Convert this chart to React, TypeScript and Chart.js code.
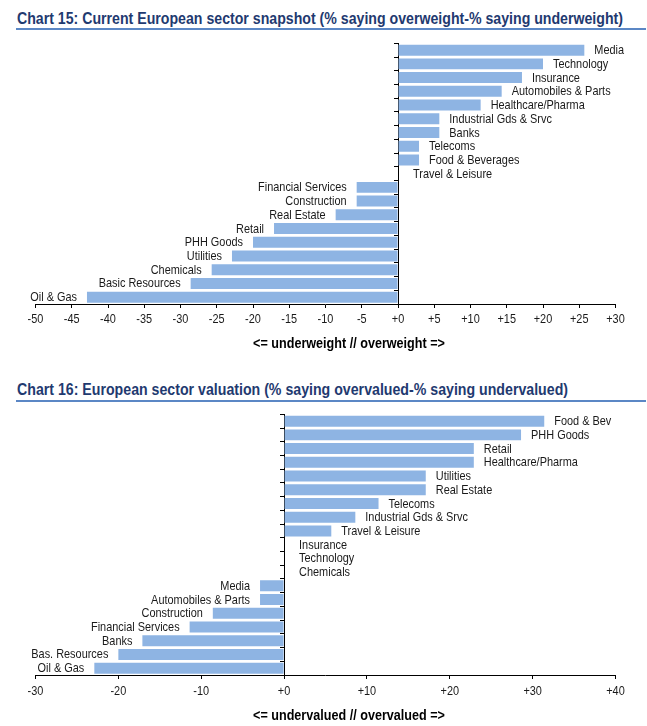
import React, { useEffect, useLayoutEffect, useRef } from 'react';
import { Chart, registerables } from 'chart.js';

Chart.register(...registerables);

const snapshotTitle = 'Chart 15: Current European sector snapshot (% saying overweight-% saying underweight)';
const snapshotAxisTitle = '<= underweight // overweight =>';
const snapshotCategories = [
  'Media', 'Technology', 'Insurance', 'Automobiles & Parts', 'Healthcare/Pharma',
  'Industrial Gds & Srvc', 'Banks', 'Telecoms', 'Food & Beverages', 'Travel & Leisure',
  'Financial Services', 'Construction', 'Real Estate', 'Retail', 'PHH Goods',
  'Utilities', 'Chemicals', 'Basic Resources', 'Oil & Gas',
];
const snapshotValues = [
  25.7, 20.0, 17.1, 14.3, 11.4, 5.7, 5.7, 2.9, 2.9, 0,
  -5.7, -5.7, -8.6, -17.1, -20.0, -22.9, -25.7, -28.6, -42.9,
];
const snapshotTickRange = [-50, 30, 5];

const valuationTitle = 'Chart 16: European sector valuation (% saying overvalued-% saying undervalued)';
const valuationAxisTitle = '<= undervalued // overvalued =>';
const valuationCategories = [
  'Food & Bev', 'PHH Goods', 'Retail', 'Healthcare/Pharma', 'Utilities',
  'Real Estate', 'Telecoms', 'Industrial Gds & Srvc', 'Travel & Leisure', 'Insurance',
  'Technology', 'Chemicals', 'Media', 'Automobiles & Parts', 'Construction',
  'Financial Services', 'Banks', 'Bas. Resources', 'Oil & Gas',
];
const valuationValues = [
  31.4, 28.6, 22.9, 22.9, 17.1, 17.1, 11.4, 8.6, 5.7, 0,
  0, 0, -2.9, -2.9, -8.6, -11.4, -17.1, -20.0, -22.9,
];
const valuationTickRange = [-30, 40, 10];

const FONT = "'Liberation Sans', Arial, sans-serif";
const NARROW = 0.84;
const BAR_COLOR = '#8EB4E3';

function narrowText(ctx: CanvasRenderingContext2D, text: string, x: number, y: number, align: CanvasTextAlign) {
  ctx.save();
  ctx.translate(x, y);
  ctx.scale(NARROW, 1);
  ctx.textAlign = align;
  ctx.fillText(text, 0, 0);
  ctx.restore();
}

const labelPlugin = {
  id: 'sectorLabels',
  afterDatasetsDraw(chart: any, _args: any, opts: any) {
    const ctx = chart.ctx as CanvasRenderingContext2D;
    const meta = chart.getDatasetMeta(0);
    const values = chart.data.datasets[0].data as number[];
    const labels = chart.data.labels as string[];
    const xScale = chart.scales.x;
    const zero = xScale.getPixelForValue(0);
    ctx.save();
    ctx.font = `13px ${FONT}`;
    ctx.fillStyle = '#1a1a1a';
    ctx.textBaseline = 'middle';
    meta.data.forEach((bar: any, i: number) => {
      const v = values[i];
      const text = labels[i];
      if (v > 0) {
        narrowText(ctx, text, bar.x + 10, bar.y + 0.5, 'left');
      } else if (v === 0) {
        narrowText(ctx, text, zero + 15, bar.y + 0.5, 'left');
      } else {
        narrowText(ctx, text, bar.x - 10, bar.y + 0.5, 'right');
      }
    });
    // x tick labels
    const axisY = chart.chartArea.bottom;
    xScale.ticks.forEach((t: any) => {
      const v = t.value;
      const s = v >= 0 ? '+' + v : String(v);
      narrowText(ctx, s, xScale.getPixelForValue(v), axisY + opts.tickDy, 'center');
    });
    ctx.font = `bold 15px ${FONT}`;
    ctx.fillStyle = '#000';
    narrowText(ctx, opts.text, opts.x, axisY + opts.dy, 'center');
    ctx.restore();
  },
};

function SectorChart(props: {
  labels: string[];
  values: number[];
  range: number[];
  axisTitle: string;
  height: number;
  padTop: number;
  padBottom: number;
  titleDy: number;
  tickDy: number;
}) {
  const ref = useRef<HTMLCanvasElement | null>(null);
  useEffect(() => {
    if (!ref.current) return;
    const [min, max, step] = props.range;
    const chart = new Chart(ref.current, {
      type: 'bar',
      data: {
        labels: props.labels,
        datasets: [
          {
            data: props.values,
            backgroundColor: BAR_COLOR,
            borderWidth: 0,
            barPercentage: 0.8,
            categoryPercentage: 1.0,
          },
        ],
      },
      plugins: [labelPlugin],
      options: {
        indexAxis: 'y',
        responsive: false,
        maintainAspectRatio: false,
        animation: false,
        events: [],
        layout: { padding: { left: 35.5, right: 31.5, top: props.padTop, bottom: props.padBottom } },
        plugins: {
          legend: { display: false },
          tooltip: { enabled: false },
          title: { display: false },
          sectorLabels: { text: props.axisTitle, x: 349, dy: props.titleDy, tickDy: props.tickDy },
        } as any,
        scales: {
          x: {
            type: 'linear',
            min,
            max,
            afterFit: (scale: any) => {
              scale.height = 48;
            },
            ticks: {
              display: false,
              stepSize: step,
              autoSkip: false,
            },
            grid: {
              drawOnChartArea: false,
              drawTicks: true,
              tickLength: 4,
              color: '#000',
            },
            border: { color: '#000', width: 1 },
          },
          y: {
            type: 'category',
            position: { x: 0 } as any,
            ticks: { display: false },
            grid: {
              drawOnChartArea: false,
              drawTicks: true,
              tickLength: 4,
              color: '#000',
              offset: true,
            },
            border: { color: '#000', width: 1 },
          },
        },
      } as any,
    });
    return () => chart.destroy();
  }, []);
  return <canvas ref={ref} width={647} height={props.height} style={{ display: 'block' }} />;
}

function FittedTitle(props: { text: string; top: number; width: number }) {
  const ref = useRef<HTMLDivElement | null>(null);
  useLayoutEffect(() => {
    const el = ref.current;
    if (!el) return;
    el.style.transform = 'none';
    const w = el.getBoundingClientRect().width;
    if (w > 0) el.style.transform = `scaleX(${props.width / w})`;
  }, []);
  return (
    <div
      ref={ref}
      style={{
        position: 'absolute',
        left: 17,
        top: props.top,
        fontFamily: FONT,
        fontWeight: 'bold',
        fontSize: 17,
        color: '#1F3A70',
        whiteSpace: 'nowrap',
        lineHeight: '20px',
        transformOrigin: '0 0',
      }}
    >
      {props.text}
    </div>
  );
}

const ruleStyle: React.CSSProperties = {
  position: 'absolute',
  left: 16,
  width: 630,
  height: 2,
  background: '#5B87C5',
};

export default function App() {
  useEffect(() => {
    document.body.style.margin = '0';
  }, []);
  return (
    <div style={{ position: 'relative', width: 647, height: 726, background: '#fff', overflow: 'hidden' }}>
      <FittedTitle text={snapshotTitle} top={9} width={606} />
      <div style={{ ...ruleStyle, top: 28 }} />
      <div style={{ position: 'absolute', left: 0, top: 36 }}>
        <SectorChart
          labels={snapshotCategories}
          values={snapshotValues}
          range={snapshotTickRange}
          axisTitle={snapshotAxisTitle}
          height={324}
          padTop={7.3}
          padBottom={8}
          titleDy={39.5}
          tickDy={15.5}
        />
      </div>
      <FittedTitle text={valuationTitle} top={380} width={551} />
      <div style={{ ...ruleStyle, top: 400 }} />
      <div style={{ position: 'absolute', left: 0, top: 405 }}>
        <SectorChart
          labels={valuationCategories}
          values={valuationValues}
          range={valuationTickRange}
          axisTitle={valuationAxisTitle}
          height={321}
          padTop={9.3}
          padBottom={3}
          titleDy={41}
          tickDy={16.5}
        />
      </div>
    </div>
  );
}
